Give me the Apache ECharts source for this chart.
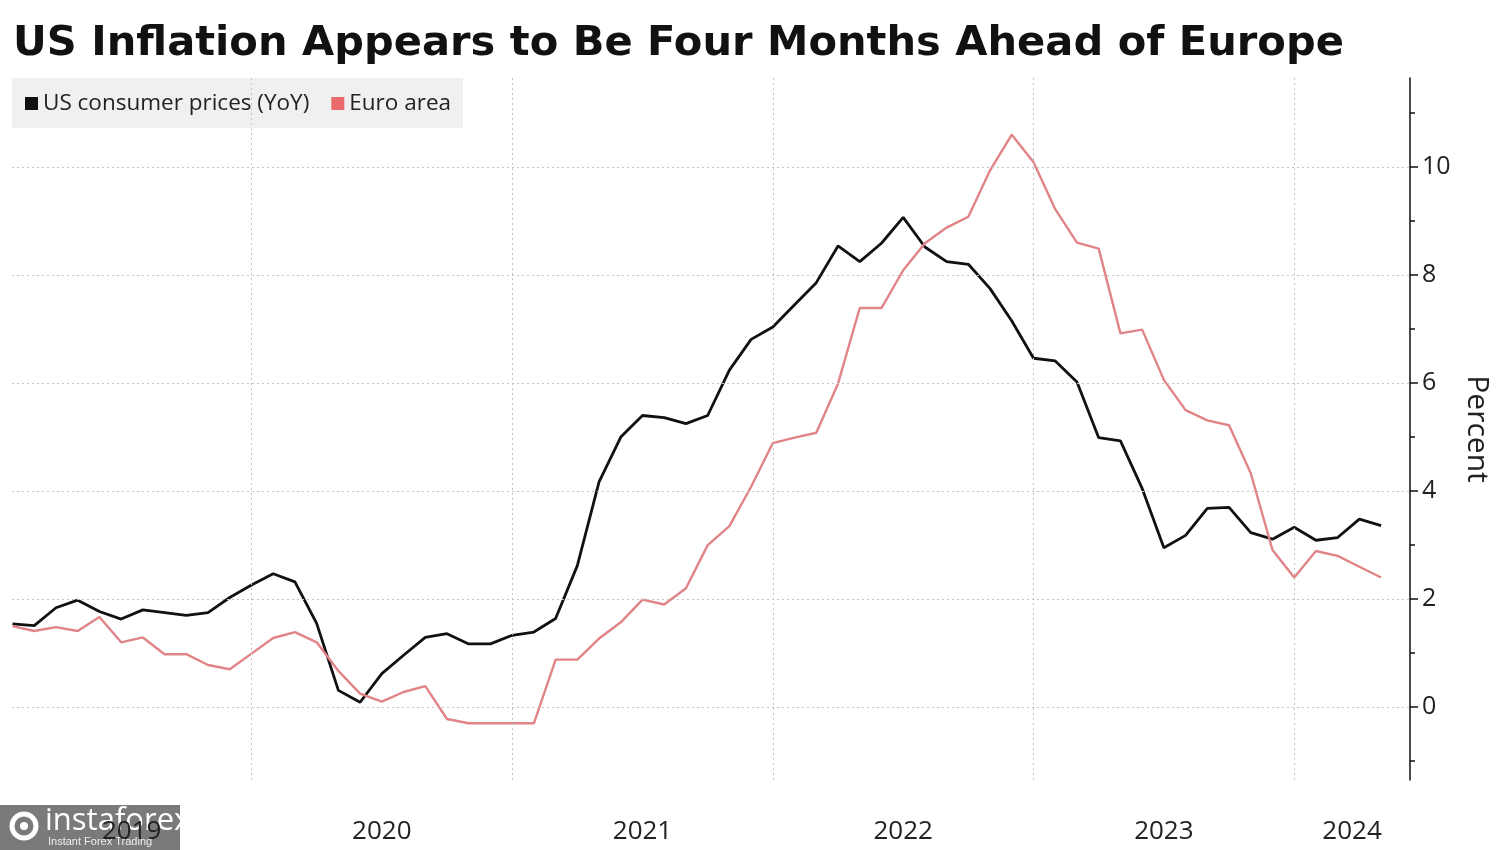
<!DOCTYPE html>
<html>
<head>
<meta charset="utf-8">
<script src="https://cdn.jsdelivr.net/npm/echarts@6/dist/echarts.min.js"></script>
<style>
html,body{margin:0;padding:0;background:#fff;}
#chart{width:1500px;height:850px;}
</style>
</head>
<body>
<div id="chart"></div>
<script>
const titleText = 'US Inflation Appears to Be Four Months Ahead of Europe';
const seriesNames = ['US consumer prices (YoY)', 'Euro area'];
const months = [
 '2019-01','2019-02','2019-03','2019-04','2019-05','2019-06','2019-07','2019-08','2019-09','2019-10','2019-11','2019-12',
 '2020-01','2020-02','2020-03','2020-04','2020-05','2020-06','2020-07','2020-08','2020-09','2020-10','2020-11','2020-12',
 '2021-01','2021-02','2021-03','2021-04','2021-05','2021-06','2021-07','2021-08','2021-09','2021-10','2021-11','2021-12',
 '2022-01','2022-02','2022-03','2022-04','2022-05','2022-06','2022-07','2022-08','2022-09','2022-10','2022-11','2022-12',
 '2023-01','2023-02','2023-03','2023-04','2023-05','2023-06','2023-07','2023-08','2023-09','2023-10','2023-11','2023-12',
 '2024-01','2024-02','2024-03','2024-04'
];
const usCPI = [
 1.54,1.51,1.84,1.98,1.77,1.63,1.80,1.75,1.70,1.75,2.03,2.26,
 2.47,2.32,1.55,0.31,0.09,0.62,0.96,1.29,1.36,1.17,1.17,1.33,
 1.39,1.64,2.62,4.17,5.00,5.40,5.36,5.25,5.40,6.24,6.81,7.04,
 7.45,7.86,8.54,8.25,8.59,9.07,8.52,8.25,8.20,7.75,7.15,6.46,
 6.41,6.02,4.99,4.93,4.05,2.95,3.18,3.68,3.70,3.23,3.11,3.33,
 3.09,3.14,3.48,3.36
];
const euroHICP = [
 1.50,1.41,1.48,1.41,1.67,1.20,1.29,0.98,0.98,0.78,0.70,0.99,
 1.28,1.39,1.20,0.67,0.25,0.10,0.28,0.39,-0.22,-0.30,-0.30,-0.30,
 -0.30,0.88,0.88,1.27,1.57,1.99,1.90,2.20,3.00,3.35,4.08,4.89,
 4.99,5.08,5.99,7.39,7.39,8.09,8.59,8.88,9.08,9.94,10.60,10.09,
 9.22,8.60,8.49,6.92,6.99,6.06,5.50,5.31,5.22,4.33,2.91,2.40,
 2.89,2.80,2.60,2.40
];
const yearLabels = ['2019','2020','2021','2022','2023','2024'];
const yTickLabels = [0, 2, 4, 6, 8, 10];
const yMinorTicks = [-1, 0, 1, 2, 3, 4, 5, 6, 7, 8, 9, 10, 11];
const yAxisName = 'Percent';

const baseYear = 2019;
function monthPos(s) { const p = s.split('-'); return (parseInt(p[0]) - baseYear) * 12 + parseInt(p[1]); }
const X_MIN = 0.976, X_MAX = 65.33;
const Y_MIN = -1.35, Y_MAX = 11.65;

const usData = months.map((m, i) => [monthPos(m), usCPI[i]]);
const euData = months.map((m, i) => [monthPos(m), euroHICP[i]]);
const yearBounds = yearLabels.slice(1).map(y => (parseInt(y) - baseYear) * 12);
const yearCenters = yearLabels.map(y => {
  const a = Math.max(X_MIN, (parseInt(y) - baseYear) * 12);
  const b = Math.min(X_MAX, (parseInt(y) - baseYear + 1) * 12);
  return (a + b) / 2;
});

const labelFont = "'Open Sans', sans-serif";
const gridLine = { type: [2, 3], color: '#c4c4c4', width: 1 };

const chart = echarts.init(document.getElementById('chart'));
chart.setOption({
  animation: false,
  backgroundColor: '#ffffff',
  title: {
    text: titleText, left: 8, top: 18,
    textStyle: { fontFamily: "'DejaVu Sans', sans-serif", fontWeight: 'bold', fontSize: 41.6, color: '#111' }
  },
  legend: {
    data: seriesNames,
    left: 12, top: 78,
    backgroundColor: '#f0f0f0',
    padding: [14, 12, 13, 13],
    itemWidth: 13, itemHeight: 13, itemGap: 22,
    icon: 'rect',
    textStyle: { fontFamily: labelFont, fontSize: 22.5, color: '#222' }
  },
  grid: { left: 12, right: 87, top: 78, bottom: 70, containLabel: false },
  xAxis: {
    type: 'value', min: X_MIN, max: X_MAX,
    axisLine: { show: false }, axisTick: { show: false }, splitLine: { show: false },
    axisLabel: {
      customValues: yearCenters,
      formatter: v => { const i = yearCenters.findIndex(c => Math.abs(c - v) < 1e-6); return i >= 0 ? yearLabels[i] : ''; },
      fontFamily: labelFont, fontSize: 26, color: '#222', margin: 39
    }
  },
  yAxis: [{
    type: 'value', position: 'right', min: Y_MIN, max: Y_MAX,
    name: yAxisName, nameLocation: 'middle', nameRotate: -90, nameGap: 52,
    nameTextStyle: { fontFamily: labelFont, fontSize: 30, color: '#222' },
    axisLine: { show: true, lineStyle: { color: '#111', width: 1.5 } },
    axisTick: { show: true, customValues: yMinorTicks, length: 5, lineStyle: { color: '#111', width: 1.5 } },
    axisLabel: { customValues: yTickLabels, fontFamily: labelFont, fontSize: 25, color: '#222', margin: 12 },
    splitLine: { show: false }
  }, {
    type: 'value', position: 'right', min: Y_MIN, max: Y_MAX,
    axisLine: { show: false },
    axisTick: { show: true, customValues: yTickLabels, length: 8, lineStyle: { color: '#111', width: 1.5 } },
    axisLabel: { show: false }, splitLine: { show: false }
  }],
  series: [{
    name: 'grid', type: 'line', data: [], z: 1, silent: true,
    markLine: {
      silent: true, symbol: 'none', label: { show: false }, animation: false,
      lineStyle: gridLine,
      data: yTickLabels.map(v => ({ yAxis: v })).concat(yearBounds.map(v => ({ xAxis: v })))
    }
  }, {
    name: seriesNames[0], type: 'line', data: usData, z: 3,
    showSymbol: false, symbol: 'none',
    itemStyle: { color: '#111111' },
    lineStyle: { color: '#111111', width: 2.8 }
  }, {
    name: seriesNames[1], type: 'line', data: euData, z: 4,
    showSymbol: false, symbol: 'none',
    itemStyle: { color: '#e86a6c' },
    lineStyle: { color: '#e08487', width: 2.4 }
  }],
  graphic: [{
    type: 'group', left: 0, top: 805, z: 100,
    children: [
      { type: 'rect', shape: { x: 0, y: 0, width: 180, height: 45 }, style: { fill: 'rgba(112,112,112,0.93)' } },
      { type: 'circle', shape: { cx: 24, cy: 21, r: 12 }, style: { fill: 'none', stroke: '#fff', lineWidth: 5 } },
      { type: 'circle', shape: { cx: 24, cy: 21, r: 4 }, style: { fill: '#fff' } },
      { type: 'text', x: 45, y: 1, style: { text: 'instaforex', fill: '#fff', font: "31px 'Open Sans', sans-serif" } },
      { type: 'text', x: 48, y: 31, style: { text: 'Instant Forex Trading', fill: '#eee', font: "11px 'Liberation Sans', sans-serif" } }
    ]
  }]
});
</script>
</body>
</html>
